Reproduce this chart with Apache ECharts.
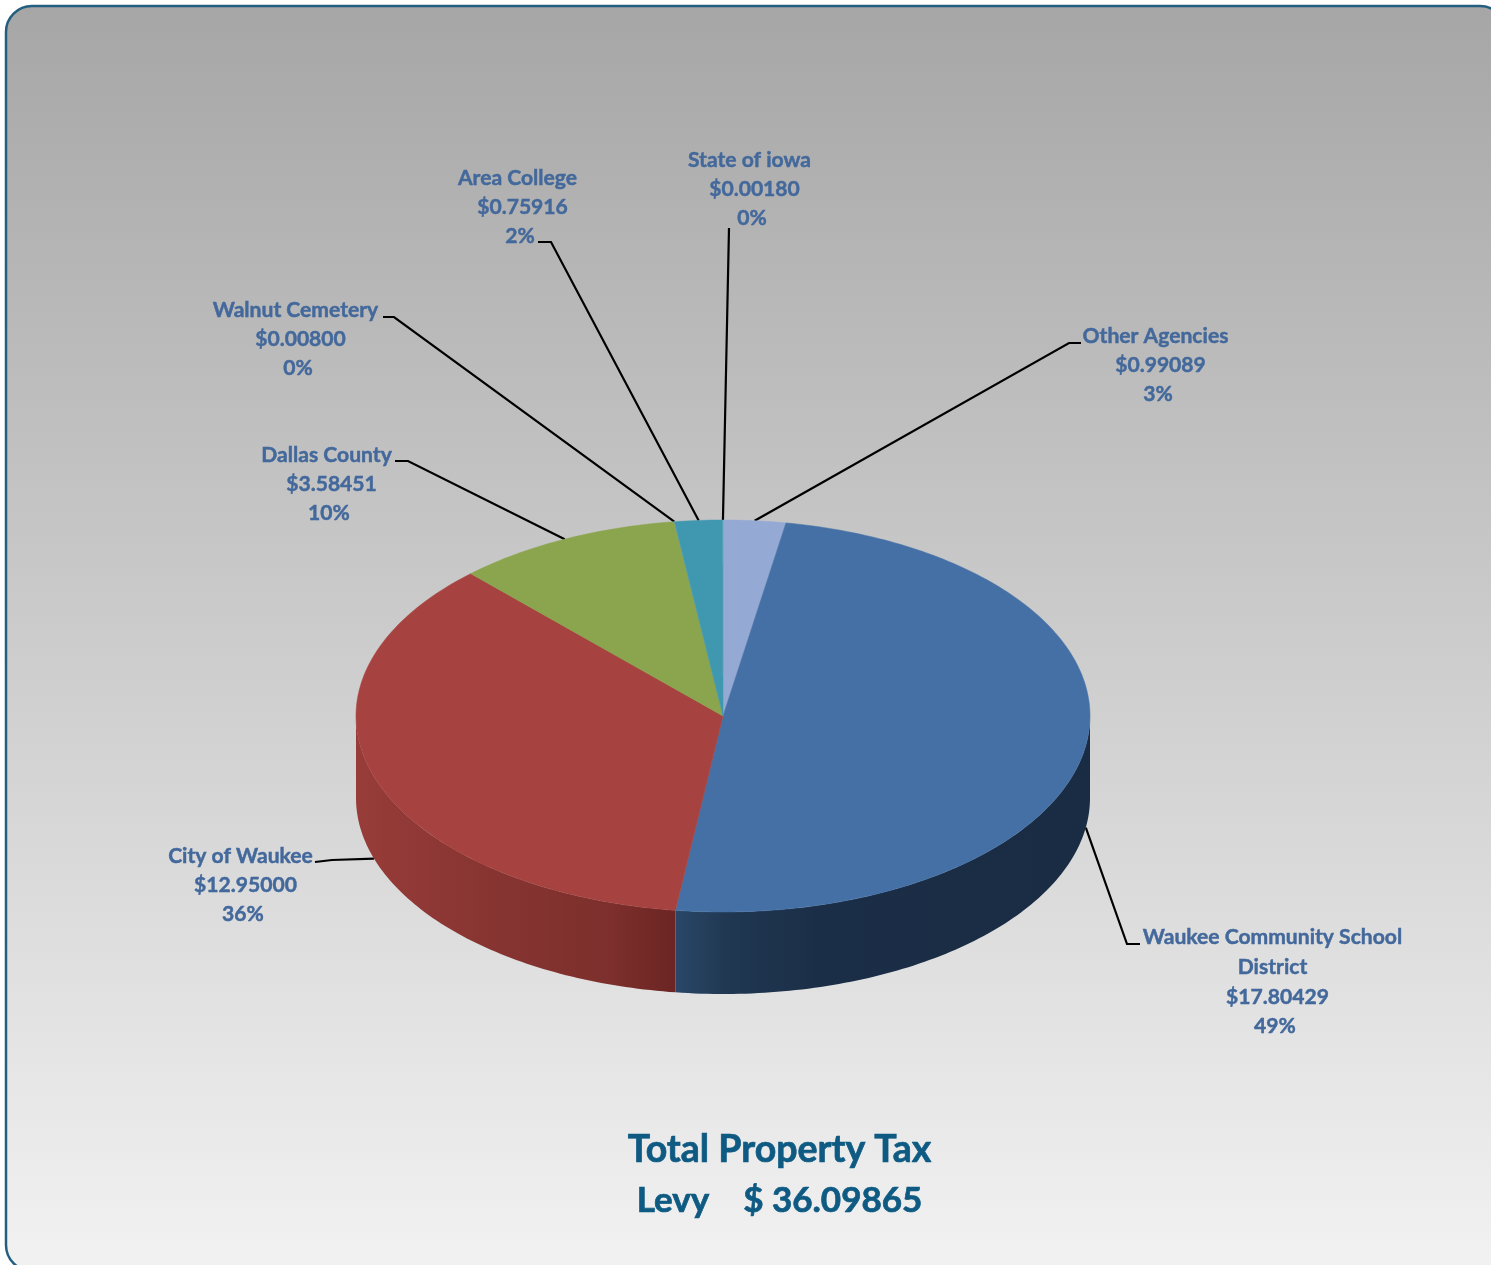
<!DOCTYPE html>
<html>
<head>
<meta charset="utf-8">
<title>Total Property Tax Levy</title>
<style>
  html, body { margin: 0; padding: 0; background: #ffffff; overflow: hidden; }
  #chart { width: 1491px; height: 1265px; }
</style>
<script src="https://cdn.jsdelivr.net/npm/echarts@6/dist/echarts.min.js"></script>
</head>
<body>
<div id="chart"></div>
<script>
// Levy per agency, in clockwise order from twelve o'clock
const agencies = ['Other Agencies', 'Waukee Community School|District', 'City of Waukee', 'Dallas County', 'Walnut Cemetery', 'Area College', 'State of iowa'];
const levies = [0.99089, 17.80429, 12.95, 3.58451, 0.008, 0.75916, 0.0018];
const topColors = ['#94a9d3', '#4570a6', '#a6423f', '#8aa54d', '#6fa0a8', '#4097b0', '#a9c2e0'];
const wallStops = [
  null,
  [{ offset: 0, color: '#2a4768' }, { offset: 0.12, color: '#203852' }, { offset: 0.35, color: '#1b2e47' }, { offset: 1, color: '#1a2c43' }],
  [{ offset: 0, color: '#973c39' }, { offset: 0.45, color: '#863431' }, { offset: 0.8, color: '#7c2f2c' }, { offset: 1, color: '#6c2523' }],
  null, null, null, null
];

// Pie geometry: a tilted disc seen as an ellipse with a visible rim
const cx = 723, cy = 716, rx = 367, ry = 196, depth = 82;

// Where each label's middle sits, and the horizontal run of each leader line
const labelCenters = [[1158, 365], [1275, 982], [243, 885], [329, 484], [298, 339], [520, 207], [752, 189]];
const leaderRuns = [
  [[1081, 343], [1069, 343]],
  [[1140, 944], [1127, 944]],
  [[315, 862], [332, 860]],
  [[395, 461], [408, 461]],
  [[383, 317], [394, 317]],
  [[538, 242], [551, 242]],
  [[729, 228]]
];
const lineGap = 29.6;
const labelColor = '#43689b';
const labelFont = 'bold 21.1px Lato, "Open Sans", sans-serif';
const titleColor = '#0e5a82';

const total = levies.reduce((a, b) => a + b, 0);
const shares = levies.map(v => v / total);
const starts = [];
shares.reduce((acc, s, i) => { starts[i] = acc; return acc + s; }, 0);

// Angle in degrees clockwise from the top of the disc
const rimPoint = (deg, drop) => {
  const r = deg * Math.PI / 180;
  return [cx + rx * Math.sin(r), cy - ry * Math.cos(r) + (drop || 0)];
};
const arcPoints = (a0, a1, drop) => {
  const pts = [];
  const n = Math.max(2, Math.ceil(Math.abs(a1 - a0)));
  for (let k = 0; k <= n; k++) pts.push(rimPoint(a0 + (a1 - a0) * k / n, drop));
  return pts;
};

function renderSlice(params) {
  const i = params.dataIndex;
  const a0 = starts[i] * 360;
  const a1 = (starts[i] + shares[i]) * 360;
  const mid = (a0 + a1) / 2;
  const children = [];

  // Front-facing rim between 90 and 270 degrees
  const w0 = Math.max(a0, 90), w1 = Math.min(a1, 270);
  if (w1 > w0 && wallStops[i]) {
    const wall = arcPoints(w0, w1, 0).concat(arcPoints(w1, w0, depth));
    children.push({
      type: 'polygon',
      z2: 1,
      shape: { points: wall },
      style: { fill: new echarts.graphic.LinearGradient(0, 0, 1, 0, wallStops[i]) }
    });
  }

  // Top face
  const solid = shares[i] > 0.01;
  children.push({
    type: 'polygon',
    z2: 2,
    shape: { points: [[cx, cy]].concat(arcPoints(a0, a1, 0)) },
    style: {
      fill: topColors[i],
      stroke: solid ? topColors[i] : null,
      lineWidth: solid ? 0.5 : 0
    }
  });

  // Leader line from the label to the slice's outer edge
  const onFront = mid > 90 && mid < 270;
  children.push({
    type: 'polyline',
    z2: 0,
    shape: { points: leaderRuns[i].concat([rimPoint(mid, onFront ? depth : 0)]) },
    style: { fill: null, stroke: '#000000', lineWidth: 2.2 }
  });

  // Label: name (possibly wrapped), amount, percentage
  const nameLines = agencies[i].split('|');
  const nameDrop = nameLines.length === 1 ? 1 : 0;
  const lines = nameLines.map(t => ({ t, dx: -2.5, dy: nameDrop }))
    .concat([
      { t: '$' + levies[i].toFixed(5), dx: 2.5, dy: 0 },
      { t: Math.round(shares[i] * 100) + '%', dx: 0, dy: 0 }
    ]);
  const top = labelCenters[i][1] - (lines.length - 1) * lineGap / 2;
  lines.forEach((ln, k) => {
    children.push({
      type: 'text',
      z2: 3,
      style: {
        x: labelCenters[i][0] + ln.dx,
        y: top + k * lineGap + ln.dy,
        text: ln.t,
        fill: labelColor,
        stroke: labelColor,
        lineWidth: 0.45,
        font: labelFont,
        align: 'center',
        verticalAlign: 'middle'
      }
    });
  });

  return { type: 'group', children };
}

const titleText = (y, text, size) => ({
  type: 'text', z: 5, silent: true,
  style: {
    x: 779.5, y, text,
    fill: titleColor, stroke: titleColor, lineWidth: 0.7,
    font: 'bold ' + size + 'px Lato, "Open Sans", sans-serif',
    align: 'center', verticalAlign: 'middle'
  }
});

const chart = echarts.init(document.getElementById('chart'), null, { renderer: 'canvas' });
chart.setOption({
  animation: false,
  graphic: [
    {
      type: 'rect',
      z: -1,
      silent: true,
      shape: { x: 6, y: 6, width: 1500, height: 1265, r: 26 },
      style: {
        fill: new echarts.graphic.LinearGradient(0, 0, 0, 1, [
          { offset: 0, color: '#a6a6a6' },
          { offset: 1, color: '#f2f2f2' }
        ]),
        stroke: '#245f80',
        lineWidth: 2.5
      }
    },
    titleText(1150, 'Total Property Tax', 37.5),
    titleText(1201, 'Levy    $ ' + total.toFixed(5), 35)
  ],
  series: [{
    type: 'custom',
    coordinateSystem: 'none',
    renderItem: renderSlice,
    data: levies.map((v, i) => ({ name: agencies[i].replace('|', ' '), value: v })),
    silent: true
  }]
});
</script>
</body>
</html>
